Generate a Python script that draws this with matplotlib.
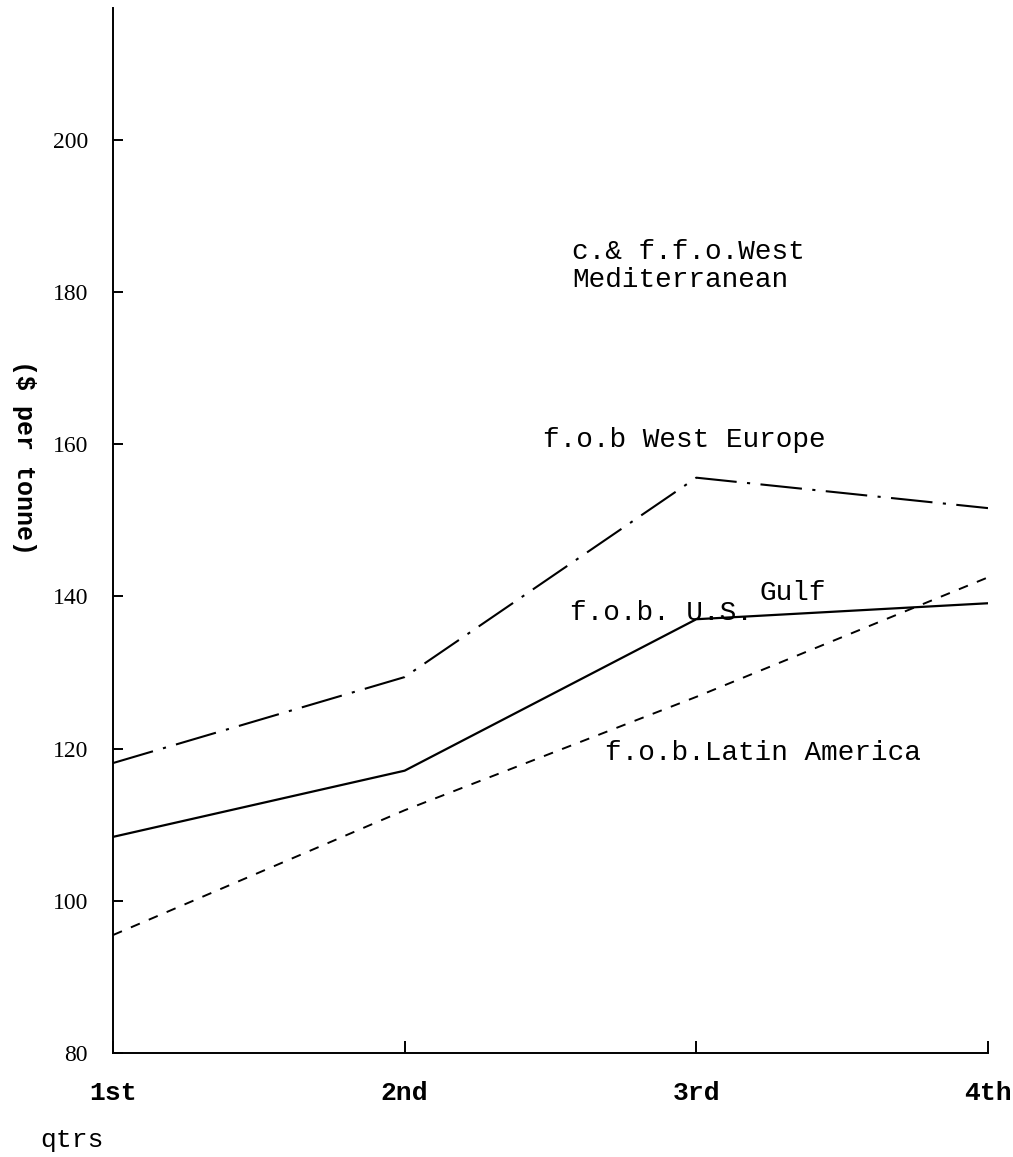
import matplotlib
matplotlib.use("Agg")
import matplotlib.pyplot as plt
import numpy as np

# quarterly prices, $ per tonne
quarters = ["1st", "2nd", "3rd", "4th"]
west_europe = [118.1, 129.4, 155.6, 151.6]
us_gulf = [108.4, 117.1, 137.0, 139.1]
latin_america = [95.5, 111.9, 126.8, 142.5]
yticks = [80, 100, 120, 140, 160, 180, 200]

mono = "Liberation Mono"
serif = "Liberation Serif"

fig = plt.figure(figsize=(10.13, 11.57), dpi=100)
ax = fig.add_axes([113/1013., 104/1157., (988-113)/1013., (1053-8)/1157.])

x = np.arange(len(quarters))
ax.plot(x, west_europe, color="black", lw=1.5, dashes=(20, 5, 1.5, 5))
ax.plot(x, us_gulf, color="black", lw=1.6)
ax.plot(x, latin_america, color="black", lw=1.4, dashes=(5, 5))

ax.set_xlim(0, 3)
ax.set_ylim(80, 80 + 1045/7.61)

for s in ["top", "right"]:
        ax.spines[s].set_visible(False)
for s in ["left", "bottom"]:
        ax.spines[s].set_linewidth(1.4)

ax.set_xticks(x)
ax.set_xticklabels(quarters, fontfamily=mono, fontsize=19, fontweight="bold")
ax.set_yticks(yticks)
ax.set_yticklabels([str(v) for v in yticks], fontfamily=serif, fontsize=17)
ax.tick_params(axis="x", direction="in", length=9, width=1.4, pad=20)
ax.tick_params(axis="y", direction="in", length=7, width=1.4, pad=18)

# curve labels
txt = dict(fontfamily=mono, fontsize=20, va="center", ha="left")
ax.text(1.574, 185.3, "c.& f.f.o.West", **txt)
ax.text(1.574, 181.6, "Mediterranean", **txt)
ax.text(1.474, 160.6, "f.o.b West Europe", **txt)
ax.text(2.218, 140.4, "Gulf", **txt)
ax.text(1.567, 137.8, "f.o.b. U.S.", **txt)
ax.text(1.687, 119.4, "f.o.b.Latin America", **txt)

fig.text(24/1013., 1-457/1157., "($ per tonne)", fontfamily=mono, fontsize=18,
         fontweight="bold", rotation=270, ha="center", va="center")
fig.text(40/1013., 1-1140/1157., "qtrs", fontfamily=mono, fontsize=19,
         ha="left", va="center")

fig.savefig("out.png", dpi=100)
